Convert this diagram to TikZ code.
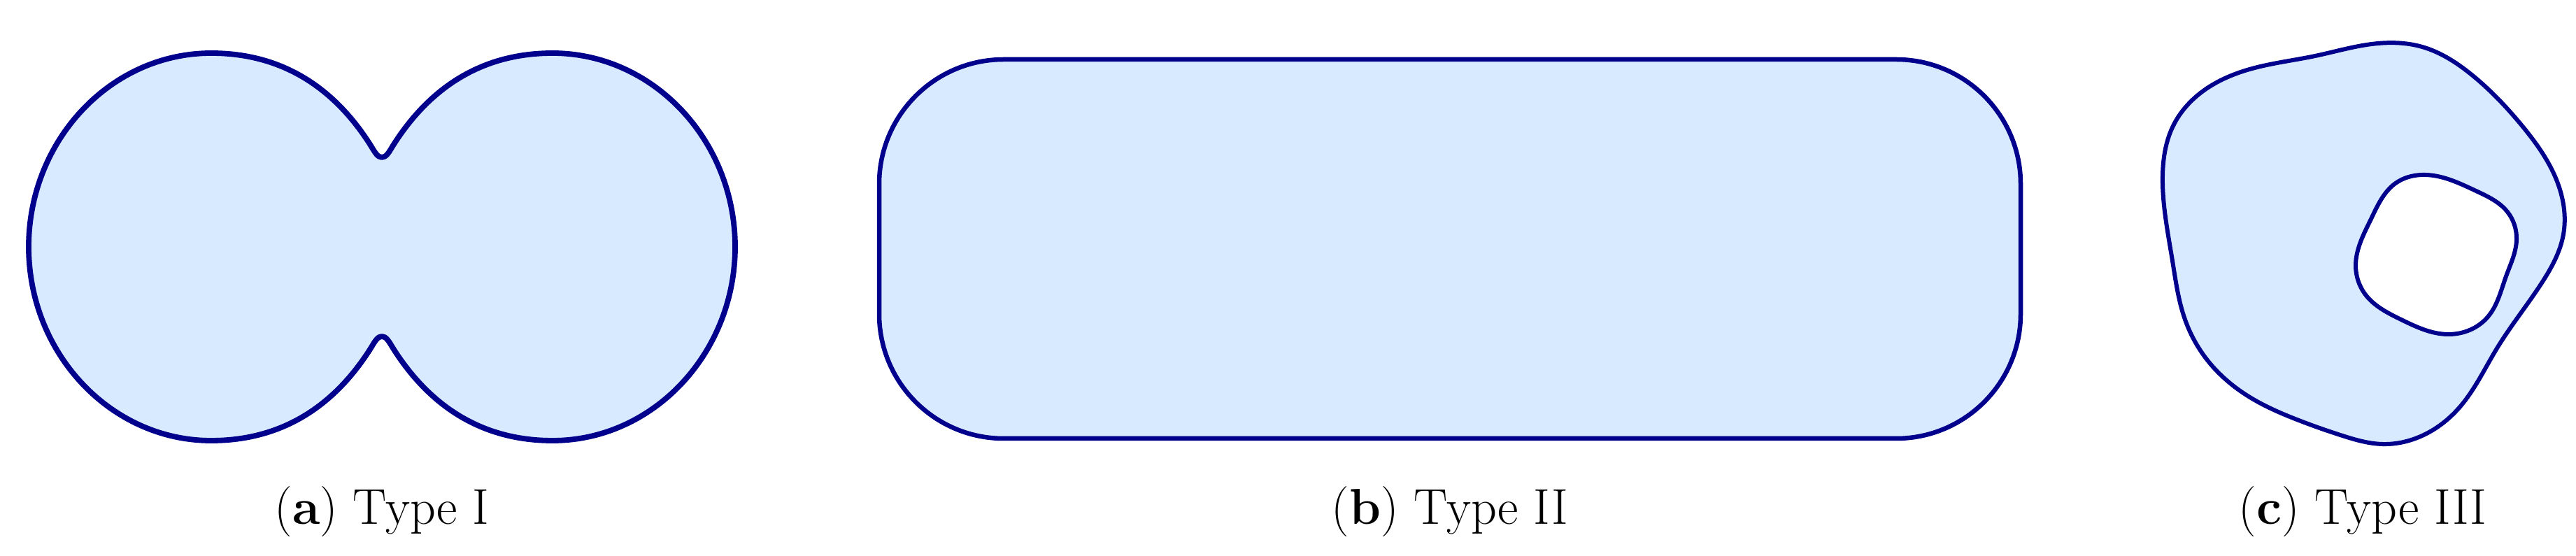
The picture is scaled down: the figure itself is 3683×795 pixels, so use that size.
\documentclass[tikz,border=0pt]{standalone}
\usepackage{tikz}
\usetikzlibrary{hobby}
\definecolor{shapefill}{RGB}{216,234,255}
\definecolor{shapeline}{RGB}{0,0,140}
\tikzset{
  region/.style={fill=shapefill, draw=shapeline, line join=round},
  caption/.style={anchor=base, inner sep=0pt, font=\fontsize{20.5}{24}\selectfont}
}
\begin{document}
\begin{tikzpicture}[x=0.01cm, y=-0.01cm]
\useasboundingbox (0,0) rectangle (3683,795);
% (a) Type I
\draw[region, line width=0.078cm]
 (546,225) .. controls (540,225) and (536,218) .. (530,208)
 .. controls (482,132) and (410,76) .. (302,76)
 .. controls (158,76) and (41,201) .. (41,353)
 .. controls (41,505) and (158,630) .. (302,630)
 .. controls (410,630) and (482,574) .. (530,498)
 .. controls (536,488) and (540,481) .. (546,481)
 .. controls (552,481) and (556,488) .. (562,498)
 .. controls (610,574) and (682,630) .. (790,630)
 .. controls (934,630) and (1051,505) .. (1051,353)
 .. controls (1051,201) and (934,76) .. (790,76)
 .. controls (682,76) and (610,132) .. (562,208)
 .. controls (556,218) and (552,225) .. (546,225) -- cycle;
% (b) Type II
\draw[region, line width=0.065cm, rounded corners=1.78cm] (1257,85) rectangle (2889,627);
% (c) Type III
\path[fill=shapefill, even odd rule, use Hobby shortcut]
 ([closed]3092,250) .. (3107,180) .. (3150,130) .. (3220,98) .. (3310,80)
 .. (3391,63) .. (3463,67) .. (3534,107) .. (3606,180) .. (3655,257)
 .. (3665,335) .. (3635,403) .. (3570,498) .. (3516,583) .. (3463,623)
 .. (3406,635) .. (3349,623) .. (3284,600) .. (3220,570) .. (3160,520)
 .. (3124,457) .. (3106,373) .. (3092,250)
 ([closed]3463,250) .. (3540,273) .. (3585,303) .. (3598,343) .. (3583,395)
 .. (3557,453) .. (3500,478) .. (3433,457) .. (3381,420) .. (3368,380)
 .. (3390,313) .. (3425,262) .. (3463,250);
\draw[draw=shapeline, line width=0.06cm, use Hobby shortcut]
 ([closed]3092,250) .. (3107,180) .. (3150,130) .. (3220,98) .. (3310,80)
 .. (3391,63) .. (3463,67) .. (3534,107) .. (3606,180) .. (3655,257)
 .. (3665,335) .. (3635,403) .. (3570,498) .. (3516,583) .. (3463,623)
 .. (3406,635) .. (3349,623) .. (3284,600) .. (3220,570) .. (3160,520)
 .. (3124,457) .. (3106,373) .. (3092,250)
 ([closed]3463,250) .. (3540,273) .. (3585,303) .. (3598,343) .. (3583,395)
 .. (3557,453) .. (3500,478) .. (3433,457) .. (3381,420) .. (3368,380)
 .. (3390,313) .. (3425,262) .. (3463,250);
% captions
\node[caption] (capa) at (546,750) {(\textbf{a}) Type I};
\node[caption] (capb) at (2073,750) {(\textbf{b}) Type II};
\node[caption] (capc) at (3378,750) {(\textbf{c}) Type III};
\end{tikzpicture}
\end{document}
